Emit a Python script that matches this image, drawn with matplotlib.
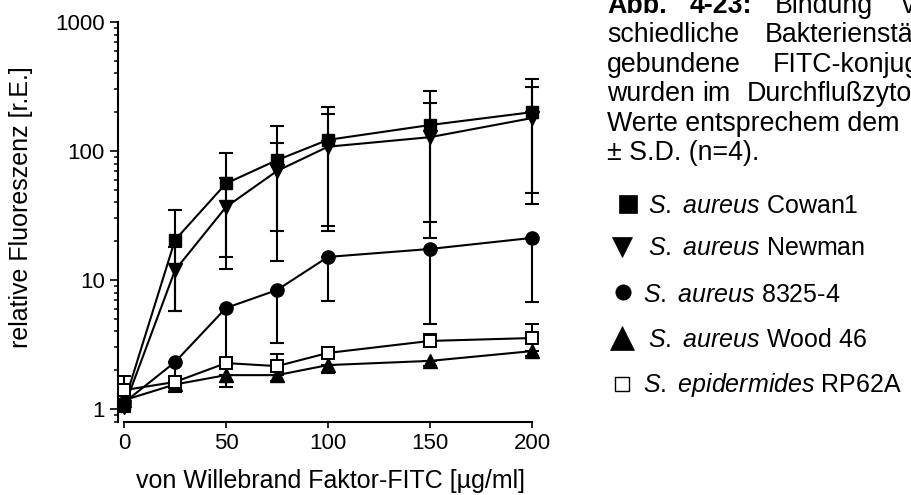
import matplotlib
matplotlib.use('Agg')
import matplotlib.pyplot as plt
from matplotlib.lines import Line2D
from matplotlib.ticker import FuncFormatter, NullFormatter, LogLocator, FixedLocator
import numpy as np

plt.rcParams['font.family'] = ['Liberation Sans', 'DejaVu Sans']
plt.rcParams['mathtext.fontset'] = 'custom'
plt.rcParams['mathtext.rm'] = 'Liberation Sans'
plt.rcParams['mathtext.it'] = 'Liberation Sans:italic'
plt.rcParams['mathtext.bf'] = 'Liberation Sans:bold'

# ---------------- data ----------------
conc = [0, 25, 50, 75, 100, 150, 200]

cowan1_mean = [1.10, 20.4, 56.0, 85.0, 122.0, 159.0, 200.0]
cowan1_sd = [0.10, 14.6, 41.0, 71.0, 96.0, 131.0, 161.0]

newman_mean = [1.03, 11.9, 36.8, 70.0, 108.0, 128.0, 180.0]
newman_sd = [0.08, 6.1, 24.6, 46.0, 84.0, 107.0, 133.0]

s8325_mean = [1.12, 2.31, 6.07, 8.36, 15.1, 17.4, 21.2]
s8325_sd_below = [0.12, 0.86, 3.67, 5.11, 8.2, 12.8, 14.4]

wood46_mean = [1.17, 1.55, 1.83, 1.83, 2.19, 2.36, 2.81]
wood46_sd_below = [0.20, 0.20, 0.35, 0.18, 0.29, 0.21, 0.24]

rp62a_mean = [1.40, 1.62, 2.27, 2.15, 2.72, 3.37, 3.55]
rp62a_sd_above = [0.40, 0.15, 0.21, 0.52, 0.31, 0.43, 1.01]

x_ticks = [0, 50, 100, 150, 200]
y_ticks = [1, 10, 100, 1000]
x_label = "von Willebrand Faktor-FITC [µg/ml]"
y_label = "relative Fluoreszenz [r.E.]"

legend_labels = [r"$\mathit{S.\ aureus}$ Cowan1",
                 r"$\mathit{S.\ aureus}$ Newman",
                 r"$\mathit{S.\ aureus}$ 8325-4",
                 r"$\mathit{S.\ aureus}$ Wood 46",
                 r"$\mathit{S.\ epidermides}$ RP62A"]

caption_lines = [
    [("Abb.", 607, "bold"), ("4-23:", 690, "bold"), ("Bindung", 775, "normal"), ("von", 902, "normal")],
    [("schiedliche", 607, "normal"), ("Bakterienstämme", 765, "normal")],
    [("gebundene", 607, "normal"), ("FITC-konjugierte", 773, "normal")],
    [("wurden", 607, "normal"), ("im", 702, "normal"), ("Durchflußzytometer", 747, "normal")],
    [("Werte entsprechem dem", 607, "normal")],
    [("± S.D. (n=4).", 607, "normal")],
]

# ---------------- figure ----------------
W, H = 911, 495
fig = plt.figure(figsize=(W / 100, H / 100), dpi=100)
ax = fig.add_axes([118 / W, 1 - 421.5 / H, (536 - 118) / W, (421.5 - 22) / H])

lw = 1.5
common = dict(color='black', lw=lw, elinewidth=lw, capsize=4.8, capthick=lw, clip_on=False)

zeros = [0] * len(conc)
ax.errorbar(conc, cowan1_mean, yerr=cowan1_sd, fmt='-s', ms=9, mfc='black', mec='black', zorder=3, **common)
ax.errorbar(conc, newman_mean, yerr=newman_sd, fmt='-v', ms=9.5, mfc='black', mec='black', zorder=3, **common)
ax.errorbar(conc, s8325_mean, yerr=[s8325_sd_below, zeros], fmt='-o', ms=9.5, mfc='black', mec='black', zorder=3, **common)
ax.errorbar(conc, wood46_mean, yerr=[wood46_sd_below, zeros], fmt='-^', ms=9.5, mfc='black', mec='black', zorder=3, **common)
ax.errorbar(conc, rp62a_mean, yerr=[zeros, rp62a_sd_above], fmt='-s', ms=8.5, mfc='white', mec='black', mew=1.4, zorder=4, **common)

ax.set_yscale('log')
ax.set_ylim(0.8, 1000)
ax.set_xlim(-2.94, 201.96)

for s in ['top', 'right']:
    ax.spines[s].set_visible(False)
for s in ['left', 'bottom']:
    ax.spines[s].set_linewidth(1.5)
ax.spines['bottom'].set_bounds(0, 200)

ax.xaxis.set_major_locator(FixedLocator(x_ticks))
ax.yaxis.set_major_locator(FixedLocator(y_ticks))
ax.yaxis.set_minor_locator(LogLocator(base=10, subs=np.arange(2, 10), numticks=20))
ax.yaxis.set_major_formatter(FuncFormatter(lambda v, p: f"{v:g}"))
ax.yaxis.set_minor_formatter(NullFormatter())

ax.tick_params(axis='y', which='major', length=5.8, width=1.2, labelsize=16, pad=3.6, direction='out')
ax.tick_params(axis='y', which='minor', length=3.0, width=1.1, direction='out')
ax.tick_params(axis='x', which='major', length=4.5, width=1.2, labelsize=16, pad=4, direction='out')

fig.text(21 / W, 1 - 207 / H, y_label, rotation=90, ha='center', va='center', fontsize=18)
fig.text(330 / W, 1 - 488 / H, x_label, ha='center', va='baseline', fontsize=18)

# caption text
base = 13
for line in caption_lines:
    for word, xpos, weight in line:
        fig.text(xpos / W, 1 - base / H, word, ha='left', va='baseline', fontsize=19.3, fontweight=weight)
    base += 29.4

# legend (marker symbols + labels)
leg_markers = ['s', 'v', 'o', '^', 's']
leg_faces = ['black', 'black', 'black', 'black', 'white']
leg_ms = [13, 14.5, 11, 17, 10.5]
leg_mew = [0.5, 0.5, 0.5, 0.5, 1.0]
sym_x = [628, 622, 623, 622, 622]
sym_y = [204, 247, 292, 338, 384]
lab_x = [648, 648, 643, 648, 643]
baselines = [213, 255, 302, 347, 392]
for m, fc, ms, mew, sx, sy, lab, lx, b in zip(leg_markers, leg_faces, leg_ms, leg_mew, sym_x, sym_y,
                                             legend_labels, lab_x, baselines):
    fig.add_artist(Line2D([sx / W], [1 - sy / H], transform=fig.transFigure, marker=m, ms=ms,
                          mfc=fc, mec='black', mew=mew, linestyle='none'))
    fig.text(lx / W, 1 - b / H, lab, ha='left', va='baseline', fontsize=18)

fig.savefig('out.png', dpi=100)
